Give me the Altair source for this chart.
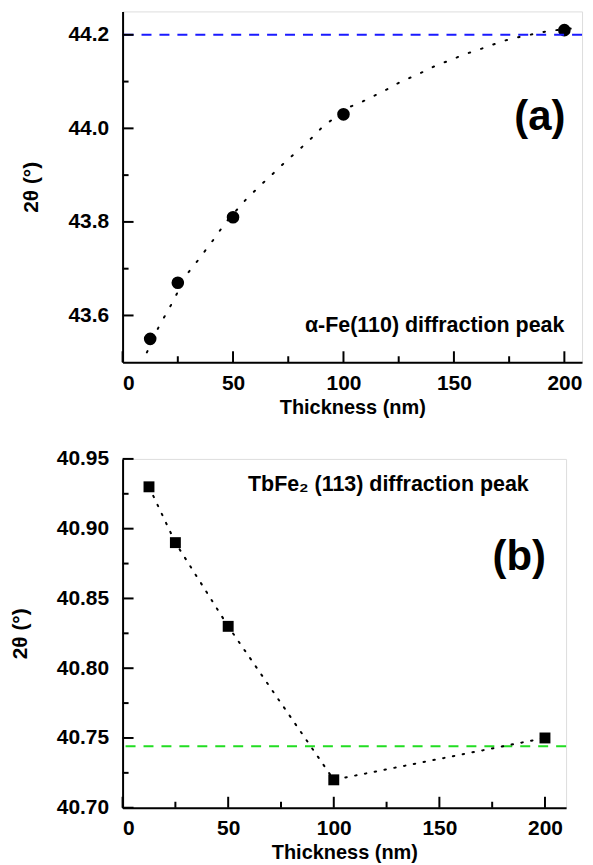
import altair as alt
import pandas as pd

# ---------------- data: panel (a) ----------------
a_thick = [12.5, 25, 50, 100, 200]
a_theta = [43.55, 43.67, 43.81, 44.03, 44.21]
a_fit_x = [11, 16.5, 19.5, 23.3, 28.4, 32.7, 37.8, 42.1, 46.3, 55.7, 61.7, 67.6,
           73.6, 79.6, 85.5, 91.1, 103.4, 108.5, 114.5, 120.4, 125.6, 131.5, 136.6,
           142.6, 148.6, 154.5, 160.5, 166.4, 173.3, 178.4, 183.5, 190.3, 196.3, 208]
a_fit_y = [43.521, 43.577, 43.602, 43.634, 43.684, 43.709, 43.741, 43.768, 43.797,
           43.847, 43.875, 43.901, 43.928, 43.953, 43.979, 44.006, 44.047, 44.057,
           44.071, 44.085, 44.099, 44.111, 44.122, 44.136, 44.146, 44.158, 44.167,
           44.177, 44.188, 44.194, 44.199, 44.206, 44.21, 44.216]
a_ref = [44.2]
a_x_major = [0, 50, 100, 150, 200]
a_x_minor = [25, 75, 125, 175]
a_y_major = [43.6, 43.8, 44.0, 44.2]
a_y_minor = [43.7, 43.9, 44.1]

# ---------------- data: panel (b) ----------------
b_thick = [12.5, 25, 50, 100, 200]
b_theta = [40.93, 40.89, 40.83, 40.72, 40.75]
b_ref = [40.744]
b_x_major = [0, 50, 100, 150, 200]
b_x_minor = [25, 75, 125, 175]
b_y_major = [40.70, 40.75, 40.80, 40.85, 40.90, 40.95]
b_y_minor = [40.725, 40.775, 40.825, 40.875, 40.925]

FONT = "Liberation Sans"


def panel(xs, ys, fit_x, fit_y, ref, ref_color, shape, msize, xdom, ydom,
          x_major, x_minor, y_major, y_minor, yfmt, W, H, label, label_xy,
          tag, tag_xy, dash):
    xsc = alt.Scale(domain=xdom, nice=False, zero=False)
    ysc = alt.Scale(domain=ydom, nice=False, zero=False)
    xax = alt.Axis(values=x_major, format="d", ticks=False, tickSize=0, grid=False,
                   labelPadding=10, titlePadding=4, domainColor="black", domainWidth=2,
                   labelFont=FONT, labelFontSize=21, labelFontWeight="bold", labelColor="black",
                   titleFont=FONT, titleFontSize=20, titleFontWeight="bold", titleColor="black")
    yax = alt.Axis(values=y_major, format=yfmt, ticks=False, tickSize=0, grid=False,
                   labelPadding=14, titlePadding=26, domainColor="black", domainWidth=2,
                   labelFont=FONT, labelFontSize=21, labelFontWeight="bold", labelColor="black",
                   titleFont=FONT, titleFontSize=21, titleFontWeight="bold", titleColor="black")

    pts = pd.DataFrame({"x": xs, "y": ys})
    fit = pd.DataFrame({"x": fit_x, "y": fit_y})

    base_pts = alt.Chart(pts).mark_point(filled=True, shape=shape, size=msize,
                                          color="black", opacity=1).encode(
        x=alt.X("x:Q", scale=xsc, axis=xax, title="Thickness (nm)"),
        y=alt.Y("y:Q", scale=ysc, axis=yax, title="2θ (°)"),
    )
    line = alt.Chart(fit).mark_line(color="black", strokeWidth=2, strokeDash=dash,
                                    strokeCap="round", clip=True).encode(
        x=alt.X("x:Q", scale=xsc), y=alt.Y("y:Q", scale=ysc))
    refl = alt.Chart(pd.DataFrame({"y": ref})).mark_rule(
        color=ref_color, strokeWidth=2, strokeDash=[10, 8]).encode(y=alt.Y("y:Q", scale=ysc))

    xt_major = alt.Chart(pd.DataFrame({"x": x_major})).mark_rule(color="black", strokeWidth=2).encode(
        x=alt.X("x:Q", scale=xsc), y=alt.value(H), y2=alt.value(H - 11))
    xt_minor = alt.Chart(pd.DataFrame({"x": x_minor})).mark_rule(color="black", strokeWidth=2).encode(
        x=alt.X("x:Q", scale=xsc), y=alt.value(H), y2=alt.value(H - 6))
    yt_major = alt.Chart(pd.DataFrame({"y": y_major})).mark_rule(color="black", strokeWidth=2).encode(
        y=alt.Y("y:Q", scale=ysc), x=alt.value(0), x2=alt.value(11))
    yt_minor = alt.Chart(pd.DataFrame({"y": y_minor})).mark_rule(color="black", strokeWidth=2).encode(
        y=alt.Y("y:Q", scale=ysc), x=alt.value(0), x2=alt.value(6))

    txt = alt.Chart(pd.DataFrame({"t": [label]})).mark_text(
        align="right", baseline="middle", font=FONT, fontSize=21.5, fontWeight="bold",
        color="black").encode(x=alt.datum(label_xy[0], scale=xsc), y=alt.datum(label_xy[1], scale=ysc),
                              text="t:N")
    tagm = alt.Chart(pd.DataFrame({"t": [tag]})).mark_text(
        align="right", baseline="middle", font=FONT, fontSize=42, fontWeight="bold",
        color="black").encode(x=alt.datum(tag_xy[0], scale=xsc), y=alt.datum(tag_xy[1], scale=ysc),
                              text="t:N")

    return alt.layer(base_pts, refl, line, xt_major, xt_minor, yt_major, yt_minor,
                     txt, tagm).properties(width=W, height=H)


top = panel(a_thick, a_theta, a_fit_x, a_fit_y, a_ref, "#1a1aff", "circle", 160,
            [0, 208], [43.5, 44.25], a_x_major, a_x_minor, a_y_major, a_y_minor, ".1f",
            461, 352, "α-Fe(110) diffraction peak", (200, 43.577), "(a)", (200.5, 44.025),
            [1.5, 11.5])
bot = panel(b_thick, b_theta, b_thick, b_theta, b_ref, "#22dd22", "square", 120,
            [0, 210], [40.70, 40.95], b_x_major, b_x_minor, b_y_major, b_y_minor, ".2f",
            445, 350, "TbFe₂ (113) diffraction peak", (192.3, 40.931), "(b)", (200.5, 40.88),
            [1.5, 8.5])

chart = alt.vconcat(top, bot, spacing=29).properties(
    padding={"left": 8, "top": 9, "right": 9, "bottom": 1}
).configure_view(stroke="black", strokeWidth=2).configure(background="white")

chart.save("out.html", embed_options={"renderer": "svg", "actions": False})
